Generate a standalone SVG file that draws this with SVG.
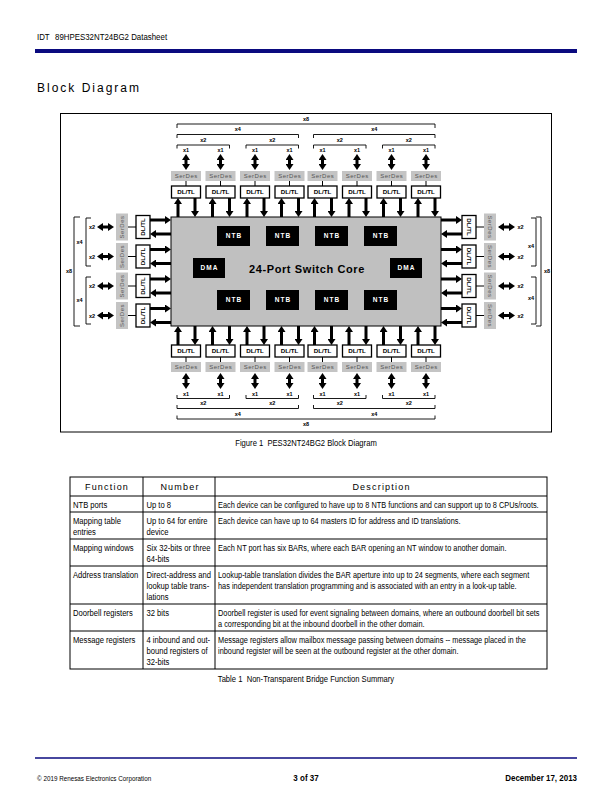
<svg xmlns="http://www.w3.org/2000/svg" width="612" height="792" viewBox="0 0 612 792">
<style>
text{font-family:"Liberation Sans",Arial,sans-serif;fill:#000}
.sd{fill:#c4c4c4}
.sdt{font-size:6px;fill:#555;letter-spacing:.5px;text-anchor:middle}
.dl{fill:#fff;stroke:#000;stroke-width:1.3}
.dlt{font-size:6.2px;font-weight:bold;text-anchor:middle}
.blk{fill:#000}
.blt{font-size:6.5px;font-weight:bold;fill:#fff;letter-spacing:1px;text-anchor:middle}
.ar{stroke:#000;stroke-width:3;fill:none;marker-end:url(#ah)}
.dar{stroke:#000;stroke-width:3;fill:none;marker-start:url(#ah);marker-end:url(#ah)}
.ln{stroke:#000;stroke-width:1;fill:none}
.br{stroke:#000;stroke-width:.9;fill:none}
.xl{font-size:5.5px;font-weight:bold;text-anchor:middle}
.tb{font-size:9.2px}
.th{font-size:9px;letter-spacing:1.2px;text-anchor:middle}
.grid{stroke:#000;stroke-width:1;fill:none}
.navy{stroke:#0a0a7f;fill:none}
</style>
<defs>
<marker id="ah" viewBox="0 0 6 8" refX="1" refY="4" markerWidth="6" markerHeight="8" markerUnits="userSpaceOnUse" orient="auto-start-reverse"><path d="M0,0L6,4L0,8z" fill="#000"/></marker>
</defs>
<rect width="612" height="792" fill="#fff"/>

<!-- page header -->
<g id="page-header">
<text transform="translate(37 40) scale(.83 1)" font-size="9.5">IDT</text>
<text transform="translate(55 40) scale(.83 1)" font-size="9.5">89HPES32NT24BG2 Datasheet</text>
<line class="navy" x1="35" y1="51" x2="577" y2="51" stroke-width="4"/>
<text x="37" y="92" font-size="12" letter-spacing="2">Block Diagram</text>
</g>

<!-- figure frame -->
<rect x="60.5" y="113.5" width="491" height="318.5" fill="none" stroke="#000" stroke-width="1"/>

<!-- core -->
<g id="core">
<rect x="171" y="217" width="270" height="109" fill="#c0c0c0" stroke="#000" stroke-width="1"/>
<text x="307" y="273.3" font-size="11" font-weight="bold" letter-spacing=".6" text-anchor="middle" fill="#1a1a1a">24-Port Switch Core</text>
</g>
<g id="ntb-t1"><rect class="blk" x="217" y="226" width="33" height="20"/><text class="blt" x="234" y="238.3">NTB</text></g>
<g id="ntb-t2"><rect class="blk" x="266" y="226" width="33" height="20"/><text class="blt" x="283" y="238.3">NTB</text></g>
<g id="ntb-t3"><rect class="blk" x="315" y="226" width="33" height="20"/><text class="blt" x="332" y="238.3">NTB</text></g>
<g id="ntb-t4"><rect class="blk" x="364" y="226" width="33" height="20"/><text class="blt" x="381" y="238.3">NTB</text></g>
<g id="ntb-b1"><rect class="blk" x="217" y="290" width="33" height="20"/><text class="blt" x="234" y="302.3">NTB</text></g>
<g id="ntb-b2"><rect class="blk" x="266" y="290" width="33" height="20"/><text class="blt" x="283" y="302.3">NTB</text></g>
<g id="ntb-b3"><rect class="blk" x="315" y="290" width="33" height="20"/><text class="blt" x="332" y="302.3">NTB</text></g>
<g id="ntb-b4"><rect class="blk" x="364" y="290" width="33" height="20"/><text class="blt" x="381" y="302.3">NTB</text></g>
<g id="dma-l"><rect class="blk" x="193" y="258" width="32" height="20"/><text class="blt" x="209.5" y="270.3">DMA</text></g>
<g id="dma-r"><rect class="blk" x="390" y="258" width="32" height="20"/><text class="blt" x="406.5" y="270.3">DMA</text></g>

<!-- top SerDes -->
<g id="serdes-t1"><rect class="sd" x="171" y="171" width="30" height="10"/><text class="sdt" x="186.3" y="178.1">SerDes</text></g>
<g id="serdes-t2"><rect class="sd" x="205.5" y="171" width="30" height="10"/><text class="sdt" x="220.8" y="178.1">SerDes</text></g>
<g id="serdes-t3"><rect class="sd" x="240" y="171" width="30" height="10"/><text class="sdt" x="255.3" y="178.1">SerDes</text></g>
<g id="serdes-t4"><rect class="sd" x="274.5" y="171" width="30" height="10"/><text class="sdt" x="289.8" y="178.1">SerDes</text></g>
<g id="serdes-t5"><rect class="sd" x="307.5" y="171" width="30" height="10"/><text class="sdt" x="322.8" y="178.1">SerDes</text></g>
<g id="serdes-t6"><rect class="sd" x="342" y="171" width="30" height="10"/><text class="sdt" x="357.3" y="178.1">SerDes</text></g>
<g id="serdes-t7"><rect class="sd" x="376.5" y="171" width="30" height="10"/><text class="sdt" x="391.8" y="178.1">SerDes</text></g>
<g id="serdes-t8"><rect class="sd" x="411" y="171" width="30" height="10"/><text class="sdt" x="426.3" y="178.1">SerDes</text></g>
<!-- top DL/TL -->
<g id="dltl-t1"><rect class="dl" x="171.5" y="186" width="29" height="12"/><text class="dlt" x="186" y="194.2">DL/TL</text></g>
<g id="dltl-t2"><rect class="dl" x="206" y="186" width="29" height="12"/><text class="dlt" x="220.5" y="194.2">DL/TL</text></g>
<g id="dltl-t3"><rect class="dl" x="240.5" y="186" width="29" height="12"/><text class="dlt" x="255" y="194.2">DL/TL</text></g>
<g id="dltl-t4"><rect class="dl" x="275" y="186" width="29" height="12"/><text class="dlt" x="289.5" y="194.2">DL/TL</text></g>
<g id="dltl-t5"><rect class="dl" x="308" y="186" width="29" height="12"/><text class="dlt" x="322.5" y="194.2">DL/TL</text></g>
<g id="dltl-t6"><rect class="dl" x="342.5" y="186" width="29" height="12"/><text class="dlt" x="357" y="194.2">DL/TL</text></g>
<g id="dltl-t7"><rect class="dl" x="377" y="186" width="29" height="12"/><text class="dlt" x="391.5" y="194.2">DL/TL</text></g>
<g id="dltl-t8"><rect class="dl" x="411.5" y="186" width="29" height="12"/><text class="dlt" x="426" y="194.2">DL/TL</text></g>

<!-- bottom DL/TL -->
<g id="dltl-b1"><rect class="dl" x="171.5" y="345" width="29" height="12"/><text class="dlt" x="186" y="353.2">DL/TL</text></g>
<g id="dltl-b2"><rect class="dl" x="206" y="345" width="29" height="12"/><text class="dlt" x="220.5" y="353.2">DL/TL</text></g>
<g id="dltl-b3"><rect class="dl" x="240.5" y="345" width="29" height="12"/><text class="dlt" x="255" y="353.2">DL/TL</text></g>
<g id="dltl-b4"><rect class="dl" x="275" y="345" width="29" height="12"/><text class="dlt" x="289.5" y="353.2">DL/TL</text></g>
<g id="dltl-b5"><rect class="dl" x="308" y="345" width="29" height="12"/><text class="dlt" x="322.5" y="353.2">DL/TL</text></g>
<g id="dltl-b6"><rect class="dl" x="342.5" y="345" width="29" height="12"/><text class="dlt" x="357" y="353.2">DL/TL</text></g>
<g id="dltl-b7"><rect class="dl" x="377" y="345" width="29" height="12"/><text class="dlt" x="391.5" y="353.2">DL/TL</text></g>
<g id="dltl-b8"><rect class="dl" x="411.5" y="345" width="29" height="12"/><text class="dlt" x="426" y="353.2">DL/TL</text></g>
<!-- bottom SerDes -->
<g id="serdes-b1"><rect class="sd" x="171" y="362" width="30" height="10"/><text class="sdt" x="186.3" y="369.1">SerDes</text></g>
<g id="serdes-b2"><rect class="sd" x="205.5" y="362" width="30" height="10"/><text class="sdt" x="220.8" y="369.1">SerDes</text></g>
<g id="serdes-b3"><rect class="sd" x="240" y="362" width="30" height="10"/><text class="sdt" x="255.3" y="369.1">SerDes</text></g>
<g id="serdes-b4"><rect class="sd" x="274.5" y="362" width="30" height="10"/><text class="sdt" x="289.8" y="369.1">SerDes</text></g>
<g id="serdes-b5"><rect class="sd" x="307.5" y="362" width="30" height="10"/><text class="sdt" x="322.8" y="369.1">SerDes</text></g>
<g id="serdes-b6"><rect class="sd" x="342" y="362" width="30" height="10"/><text class="sdt" x="357.3" y="369.1">SerDes</text></g>
<g id="serdes-b7"><rect class="sd" x="376.5" y="362" width="30" height="10"/><text class="sdt" x="391.8" y="369.1">SerDes</text></g>
<g id="serdes-b8"><rect class="sd" x="411" y="362" width="30" height="10"/><text class="sdt" x="426.3" y="369.1">SerDes</text></g>

<!-- left side -->
<g id="serdes-l1"><rect class="sd" x="116" y="213.5" width="12" height="27"/><text class="sdt" transform="translate(122 227) rotate(-90)" y="2.1">SerDes</text></g>
<g id="serdes-l2"><rect class="sd" x="116" y="243" width="12" height="27"/><text class="sdt" transform="translate(122 256.5) rotate(-90)" y="2.1">SerDes</text></g>
<g id="serdes-l3"><rect class="sd" x="116" y="272.5" width="12" height="27"/><text class="sdt" transform="translate(122 286) rotate(-90)" y="2.1">SerDes</text></g>
<g id="serdes-l4"><rect class="sd" x="116" y="302" width="12" height="27"/><text class="sdt" transform="translate(122 315.5) rotate(-90)" y="2.1">SerDes</text></g>
<g id="dltl-l1"><rect class="dl" x="136" y="215.5" width="14" height="23"/><text class="dlt" transform="translate(143 227) rotate(-90)" y="2.2">DL/TL</text></g>
<g id="dltl-l2"><rect class="dl" x="136" y="245" width="14" height="23"/><text class="dlt" transform="translate(143 256.5) rotate(-90)" y="2.2">DL/TL</text></g>
<g id="dltl-l3"><rect class="dl" x="136" y="274.5" width="14" height="23"/><text class="dlt" transform="translate(143 286) rotate(-90)" y="2.2">DL/TL</text></g>
<g id="dltl-l4"><rect class="dl" x="136" y="304" width="14" height="23"/><text class="dlt" transform="translate(143 315.5) rotate(-90)" y="2.2">DL/TL</text></g>

<!-- right side -->
<g id="dltl-r1"><rect class="dl" x="462" y="215.5" width="14" height="23"/><text class="dlt" transform="translate(469 227) rotate(90)" y="2.2">DL/TL</text></g>
<g id="dltl-r2"><rect class="dl" x="462" y="245" width="14" height="23"/><text class="dlt" transform="translate(469 256.5) rotate(90)" y="2.2">DL/TL</text></g>
<g id="dltl-r3"><rect class="dl" x="462" y="274.5" width="14" height="23"/><text class="dlt" transform="translate(469 286) rotate(90)" y="2.2">DL/TL</text></g>
<g id="dltl-r4"><rect class="dl" x="462" y="304" width="14" height="23"/><text class="dlt" transform="translate(469 315.5) rotate(90)" y="2.2">DL/TL</text></g>
<g id="serdes-r1"><rect class="sd" x="484" y="213.5" width="12" height="27"/><text class="sdt" transform="translate(490 227) rotate(90)" y="2.1">SerDes</text></g>
<g id="serdes-r2"><rect class="sd" x="484" y="243" width="12" height="27"/><text class="sdt" transform="translate(490 256.5) rotate(90)" y="2.1">SerDes</text></g>
<g id="serdes-r3"><rect class="sd" x="484" y="272.5" width="12" height="27"/><text class="sdt" transform="translate(490 286) rotate(90)" y="2.1">SerDes</text></g>
<g id="serdes-r4"><rect class="sd" x="484" y="302" width="12" height="27"/><text class="sdt" transform="translate(490 315.5) rotate(90)" y="2.1">SerDes</text></g>

<!-- connectors -->
<g id="connectors">
<line class="dar" x1="186" y1="159" x2="186" y2="165"/>
<line class="dar" x1="220.5" y1="159" x2="220.5" y2="165"/>
<line class="dar" x1="255" y1="159" x2="255" y2="165"/>
<line class="dar" x1="289.5" y1="159" x2="289.5" y2="165"/>
<line class="dar" x1="322.5" y1="159" x2="322.5" y2="165"/>
<line class="dar" x1="357" y1="159" x2="357" y2="165"/>
<line class="dar" x1="391.5" y1="159" x2="391.5" y2="165"/>
<line class="dar" x1="426" y1="159" x2="426" y2="165"/>
<line class="ln" x1="186" y1="181" x2="186" y2="186"/>
<line class="ln" x1="220.5" y1="181" x2="220.5" y2="186"/>
<line class="ln" x1="255" y1="181" x2="255" y2="186"/>
<line class="ln" x1="289.5" y1="181" x2="289.5" y2="186"/>
<line class="ln" x1="322.5" y1="181" x2="322.5" y2="186"/>
<line class="ln" x1="357" y1="181" x2="357" y2="186"/>
<line class="ln" x1="391.5" y1="181" x2="391.5" y2="186"/>
<line class="ln" x1="426" y1="181" x2="426" y2="186"/>
<line class="ar" x1="178" y1="217" x2="178" y2="203"/><line class="ar" x1="195" y1="198" x2="195" y2="212"/>
<line class="ar" x1="212.5" y1="217" x2="212.5" y2="203"/><line class="ar" x1="229.5" y1="198" x2="229.5" y2="212"/>
<line class="ar" x1="247" y1="217" x2="247" y2="203"/><line class="ar" x1="264" y1="198" x2="264" y2="212"/>
<line class="ar" x1="281.5" y1="217" x2="281.5" y2="203"/><line class="ar" x1="298.5" y1="198" x2="298.5" y2="212"/>
<line class="ar" x1="314.5" y1="217" x2="314.5" y2="203"/><line class="ar" x1="331.5" y1="198" x2="331.5" y2="212"/>
<line class="ar" x1="349" y1="217" x2="349" y2="203"/><line class="ar" x1="366" y1="198" x2="366" y2="212"/>
<line class="ar" x1="383.5" y1="217" x2="383.5" y2="203"/><line class="ar" x1="400.5" y1="198" x2="400.5" y2="212"/>
<line class="ar" x1="418" y1="217" x2="418" y2="203"/><line class="ar" x1="435" y1="198" x2="435" y2="212"/>
<line class="ar" x1="178" y1="345" x2="178" y2="331"/><line class="ar" x1="195" y1="326" x2="195" y2="340"/>
<line class="ar" x1="212.5" y1="345" x2="212.5" y2="331"/><line class="ar" x1="229.5" y1="326" x2="229.5" y2="340"/>
<line class="ar" x1="247" y1="345" x2="247" y2="331"/><line class="ar" x1="264" y1="326" x2="264" y2="340"/>
<line class="ar" x1="281.5" y1="345" x2="281.5" y2="331"/><line class="ar" x1="298.5" y1="326" x2="298.5" y2="340"/>
<line class="ar" x1="314.5" y1="345" x2="314.5" y2="331"/><line class="ar" x1="331.5" y1="326" x2="331.5" y2="340"/>
<line class="ar" x1="349" y1="345" x2="349" y2="331"/><line class="ar" x1="366" y1="326" x2="366" y2="340"/>
<line class="ar" x1="383.5" y1="345" x2="383.5" y2="331"/><line class="ar" x1="400.5" y1="326" x2="400.5" y2="340"/>
<line class="ar" x1="418" y1="345" x2="418" y2="331"/><line class="ar" x1="435" y1="326" x2="435" y2="340"/>
<line class="ln" x1="186" y1="357" x2="186" y2="362"/>
<line class="ln" x1="220.5" y1="357" x2="220.5" y2="362"/>
<line class="ln" x1="255" y1="357" x2="255" y2="362"/>
<line class="ln" x1="289.5" y1="357" x2="289.5" y2="362"/>
<line class="ln" x1="322.5" y1="357" x2="322.5" y2="362"/>
<line class="ln" x1="357" y1="357" x2="357" y2="362"/>
<line class="ln" x1="391.5" y1="357" x2="391.5" y2="362"/>
<line class="ln" x1="426" y1="357" x2="426" y2="362"/>
<line class="dar" x1="186" y1="378" x2="186" y2="384"/>
<line class="dar" x1="220.5" y1="378" x2="220.5" y2="384"/>
<line class="dar" x1="255" y1="378" x2="255" y2="384"/>
<line class="dar" x1="289.5" y1="378" x2="289.5" y2="384"/>
<line class="dar" x1="322.5" y1="378" x2="322.5" y2="384"/>
<line class="dar" x1="357" y1="378" x2="357" y2="384"/>
<line class="dar" x1="391.5" y1="378" x2="391.5" y2="384"/>
<line class="dar" x1="426" y1="378" x2="426" y2="384"/>
<line class="dar" x1="102" y1="227" x2="109" y2="227"/>
<line class="dar" x1="102" y1="256.5" x2="109" y2="256.5"/>
<line class="dar" x1="102" y1="286" x2="109" y2="286"/>
<line class="dar" x1="102" y1="315.5" x2="109" y2="315.5"/>
<line class="ln" x1="128" y1="227" x2="136" y2="227"/>
<line class="ln" x1="128" y1="256.5" x2="136" y2="256.5"/>
<line class="ln" x1="128" y1="286" x2="136" y2="286"/>
<line class="ln" x1="128" y1="315.5" x2="136" y2="315.5"/>
<line class="ar" x1="150" y1="220" x2="166" y2="220"/><line class="ar" x1="171" y1="234" x2="155" y2="234"/>
<line class="ar" x1="150" y1="249.5" x2="166" y2="249.5"/><line class="ar" x1="171" y1="263.5" x2="155" y2="263.5"/>
<line class="ar" x1="150" y1="279" x2="166" y2="279"/><line class="ar" x1="171" y1="293" x2="155" y2="293"/>
<line class="ar" x1="150" y1="308.5" x2="166" y2="308.5"/><line class="ar" x1="171" y1="322.5" x2="155" y2="322.5"/>
<line class="ar" x1="441" y1="220" x2="457" y2="220"/><line class="ar" x1="462" y1="234" x2="446" y2="234"/>
<line class="ar" x1="441" y1="249.5" x2="457" y2="249.5"/><line class="ar" x1="462" y1="263.5" x2="446" y2="263.5"/>
<line class="ar" x1="441" y1="279" x2="457" y2="279"/><line class="ar" x1="462" y1="293" x2="446" y2="293"/>
<line class="ar" x1="441" y1="308.5" x2="457" y2="308.5"/><line class="ar" x1="462" y1="322.5" x2="446" y2="322.5"/>
<line class="ln" x1="476" y1="227" x2="484" y2="227"/>
<line class="ln" x1="476" y1="256.5" x2="484" y2="256.5"/>
<line class="ln" x1="476" y1="286" x2="484" y2="286"/>
<line class="ln" x1="476" y1="315.5" x2="484" y2="315.5"/>
<line class="dar" x1="503" y1="227" x2="510" y2="227"/>
<line class="dar" x1="503" y1="256.5" x2="510" y2="256.5"/>
<line class="dar" x1="503" y1="286" x2="510" y2="286"/>
<line class="dar" x1="503" y1="315.5" x2="510" y2="315.5"/>
</g>

<!-- lane-width brackets and labels -->
<g id="brackets">
<path class="br" d="M177,128V124H435V128"/>
<path class="br" d="M177,138V134.5H298.5V138M313.5,138V134.5H435V138"/>
<path class="br" d="M177,148.5V145H229.5V148.5M246,148.5V145H298.5V148.5M313.5,148.5V145H366V148.5M382.5,148.5V145H435V148.5"/>
<text class="xl" x="306" y="120.5">x8</text>
<text class="xl" x="237.7" y="131.3">x4</text><text class="xl" x="374.2" y="131.3">x4</text>
<text class="xl" x="203.2" y="142">x2</text><text class="xl" x="272.2" y="142">x2</text><text class="xl" x="339.7" y="142">x2</text><text class="xl" x="408.7" y="142">x2</text>
<text class="xl" x="186" y="152.3">x1</text><text class="xl" x="220.5" y="152.3">x1</text><text class="xl" x="255" y="152.3">x1</text><text class="xl" x="289.5" y="152.3">x1</text>
<text class="xl" x="322.5" y="152.3">x1</text><text class="xl" x="357" y="152.3">x1</text><text class="xl" x="391.5" y="152.3">x1</text><text class="xl" x="426" y="152.3">x1</text>

<text class="xl" x="186" y="395.5">x1</text><text class="xl" x="220.5" y="395.5">x1</text><text class="xl" x="255" y="395.5">x1</text><text class="xl" x="289.5" y="395.5">x1</text>
<text class="xl" x="322.5" y="395.5">x1</text><text class="xl" x="357" y="395.5">x1</text><text class="xl" x="391.5" y="395.5">x1</text><text class="xl" x="426" y="395.5">x1</text>
<path class="br" d="M177,395V398.5H229.5V395M246,395V398.5H298.5V395M313.5,395V398.5H366V395M382.5,395V398.5H435V395"/>
<text class="xl" x="203.2" y="405">x2</text><text class="xl" x="272.2" y="405">x2</text><text class="xl" x="339.7" y="405">x2</text><text class="xl" x="408.7" y="405">x2</text>
<path class="br" d="M177,405V408.5H298.5V405M313.5,405V408.5H435V405"/>
<text class="xl" x="237.7" y="415.5">x4</text><text class="xl" x="374.2" y="415.5">x4</text>
<path class="br" d="M177,415.5V419H435V415.5"/>
<text class="xl" x="306" y="426">x8</text>

<text class="xl" x="92" y="229">x2</text><text class="xl" x="92" y="258.5">x2</text><text class="xl" x="92" y="288">x2</text><text class="xl" x="92" y="317.5">x2</text>
<path class="br" d="M91,218H86V266H91M91,277H86V324H91"/>
<text class="xl" x="79.5" y="244">x4</text><text class="xl" x="79.5" y="302">x4</text>
<path class="br" d="M80,217H74V326H80"/>
<text class="xl" x="69" y="273">x8</text>

<text class="xl" x="520.5" y="229">x2</text><text class="xl" x="520.5" y="258.5">x2</text><text class="xl" x="520.5" y="288">x2</text><text class="xl" x="520.5" y="317.5">x2</text>
<path class="br" d="M531,218H536V266H531M531,277H536V324H531"/>
<text class="xl" x="531" y="247.5">x4</text><text class="xl" x="531" y="300">x4</text>
<path class="br" d="M536,217H541V326H536"/>
<text class="xl" x="547" y="273">x8</text>
</g>

<text transform="translate(306 446) scale(.83 1)" class="tb" text-anchor="middle" style="white-space:pre">Figure 1  PES32NT24BG2 Block Diagram</text>

<!-- table -->
<g id="table">
<rect class="grid" x="70" y="477" width="477" height="192"/>
<path class="grid" d="M70,496H547M70,512H547M70,539H547M70,566H547M70,604H547M70,631H547M143,477V669M215,477V669"/>
<text class="th" x="107" y="490">Function</text>
<text class="th" x="180" y="490">Number</text>
<text class="th" x="381.5" y="490">Description</text>
<g transform="translate(73 0) scale(.83 1)">
<text class="tb" y="507.7">NTB ports</text>
<text class="tb" y="523.7">Mapping table</text><text class="tb" y="534.7">entries</text>
<text class="tb" y="550.7">Mapping windows</text>
<text class="tb" y="577.7">Address translation</text>
<text class="tb" y="615.7">Doorbell registers</text>
<text class="tb" y="642.7">Message registers</text>
</g>
<g transform="translate(146.5 0) scale(.83 1)">
<text class="tb" y="507.7">Up to 8</text>
<text class="tb" y="523.7">Up to 64 for entire</text><text class="tb" y="534.7">device</text>
<text class="tb" y="550.7">Six 32-bits or three</text><text class="tb" y="561.7">64-bits</text>
<text class="tb" y="577.7">Direct-address and</text><text class="tb" y="588.7">lookup table trans-</text><text class="tb" y="599.7">lations</text>
<text class="tb" y="615.7">32 bits</text>
<text class="tb" y="642.7">4 inbound and out-</text><text class="tb" y="653.7">bound registers of</text><text class="tb" y="664.7">32-bits</text>
</g>
<g transform="translate(218 0) scale(.8 1)">
<text class="tb" y="507.7">Each device can be configured to have up to 8 NTB functions and can support up to 8 CPUs/roots.</text>
<text class="tb" y="523.7">Each device can have up to 64 masters ID for address and ID translations.</text>
<text class="tb" y="550.7">Each NT port has six BARs, where each BAR opening an NT window to another domain.</text>
<text class="tb" y="577.7">Lookup-table translation divides the BAR aperture into up to 24 segments, where each segment</text>
<text class="tb" y="588.7">has independent translation programming and is associated with an entry in a look-up table.</text>
<text class="tb" y="615.7">Doorbell register is used for event signaling between domains, where an outbound doorbell bit sets</text>
<text class="tb" y="626.7">a corresponding bit at the inbound doorbell in the other domain.</text>
<text class="tb" y="642.7">Message registers allow mailbox message passing between domains -- message placed in the</text>
<text class="tb" y="653.7">inbound register will be seen at the outbound register at the other domain.</text>
</g>
</g>
<text transform="translate(306 682) scale(.83 1)" class="tb" text-anchor="middle" style="white-space:pre">Table 1  Non-Transparent Bridge Function Summary</text>

<!-- page footer -->
<g id="page-footer">
<line class="navy" x1="35" y1="758" x2="577" y2="758" stroke-width="1.5"/>
<text transform="translate(37 780.5) scale(.83 1)" font-size="7.6">© 2019 Renesas Electronics Corporation</text>
<text transform="translate(306 781) scale(.84 1)" font-size="9.5" font-weight="bold" text-anchor="middle">3 of 37</text>
<text transform="translate(577 781) scale(.84 1)" font-size="9.5" font-weight="bold" text-anchor="end">December 17, 2013</text>
</g>
</svg>
